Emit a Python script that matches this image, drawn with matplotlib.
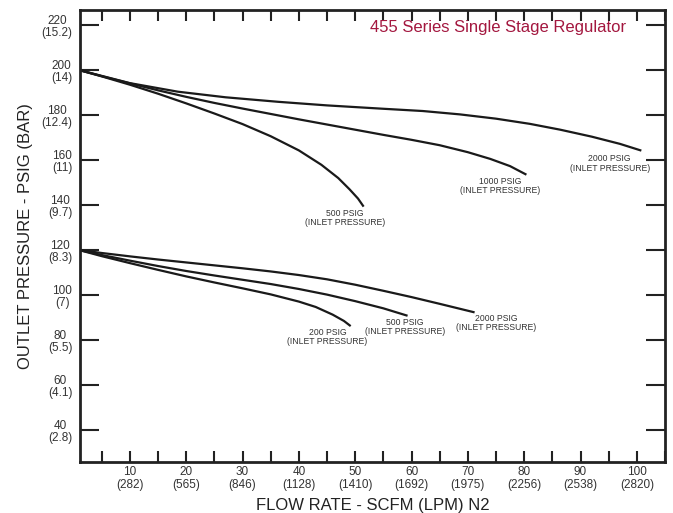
import matplotlib
matplotlib.use("Agg")
import matplotlib.pyplot as plt
from matplotlib.ticker import MultipleLocator

plt.rcParams['font.family'] = ['Liberation Sans', 'DejaVu Sans']

# flow (SCFM) / outlet pressure (PSIG)
up2000_x = [1, 10, 18.5, 27, 36.3, 45, 55, 62, 68.6, 75, 81, 86.4, 92, 97, 100.8]
up2000_y = [200, 194.2, 190.4, 187.9, 185.9, 184.3, 182.8, 181.8, 180.3, 178.4, 176.1, 173.5, 170.4, 167.2, 164.2]
up1000_x = [1, 5, 10, 15, 20, 25, 30, 35, 40, 45, 50, 55, 60, 65, 70, 74, 77.5, 80.4]
up1000_y = [200, 197.3, 194.1, 191, 188.1, 185.4, 182.9, 180.5, 178.1, 175.8, 173.5, 171.2, 169, 166.6, 163.5, 160.5, 157.3, 153.5]
up500_x = [1, 5, 10, 15, 20, 25, 30, 35, 40, 44, 47, 49, 50.5, 51.5]
up500_y = [200, 197.2, 193.5, 189.5, 185.2, 180.7, 176, 170.6, 164.3, 157.9, 152, 147, 142.9, 139.3]

lo2000_x = [1, 5, 10, 15, 20, 25, 30, 35, 40, 45, 50, 55, 60, 65, 71.2]
lo2000_y = [120, 118.7, 117.2, 115.8, 114.5, 113.2, 111.9, 110.5, 108.9, 107, 104.6, 101.9, 99.1, 96.1, 92.3]
lo500_x = [1, 5, 10, 15, 20, 25, 30, 35, 40, 45, 50, 55, 59.3]
lo500_y = [120, 117.8, 115.3, 112.9, 110.7, 108.7, 106.8, 104.9, 102.7, 100.2, 97.3, 94.1, 90.8]
lo200_x = [1, 5, 10, 15, 20, 25, 30, 35, 40, 43, 46, 48, 49.2]
lo200_y = [120, 117.3, 114.2, 111.2, 108.3, 105.6, 103, 100.3, 97.1, 94.7, 91.3, 88.5, 86.2]

curves = [(up2000_x, up2000_y), (up1000_x, up1000_y), (up500_x, up500_y),
          (lo2000_x, lo2000_y), (lo500_x, lo500_y), (lo200_x, lo200_y)]

# curve labels: text, x, y
labels = [("500 PSIG", 48.2, 134.2), ("1000 PSIG", 75.7, 148.4),
          ("2000 PSIG", 95.2, 158.4), ("200 PSIG", 45.1, 81.3),
          ("500 PSIG", 58.8, 85.8), ("2000 PSIG", 75.1, 87.6)]

x_major = [10, 20, 30, 40, 50, 60, 70, 80, 90, 100]
x_lpm = [282, 565, 846, 1128, 1410, 1692, 1975, 2256, 2538, 2820]
y_major = [40, 60, 80, 100, 120, 140, 160, 180, 200, 220]
y_bar = ["2.8", "4.1", "5.5", "7", "8.3", "9.7", "11", "12.4", "14", "15.2"]

fig = plt.figure(figsize=(6.73, 5.13), dpi=100)
ax = fig.add_axes([80 / 673, 1 - 462 / 513, 585 / 673, 452 / 513])

for xs, ys in curves:
    ax.plot(xs, ys, color="#1a1a1a", lw=1.6, solid_capstyle="butt", solid_joinstyle="round")

for txt, x, y in labels:
    ax.text(x, y, f"{txt}\n(INLET PRESSURE)", fontsize=6.2, color="#333333",
            ha="center", va="center", multialignment="center", linespacing=1.05)

ax.text(0.715, 0.962, "455 Series Single Stage Regulator", transform=ax.transAxes,
        fontsize=12, color="#a3173f", ha="center", va="center")

ax.set_xlim(1.15, 105)
ax.set_ylim(25.8, 226.7)

ax.set_xticks(x_major)
ax.set_xticklabels([f"{a}\n({b})" for a, b in zip(x_major, x_lpm)])
ax.xaxis.set_minor_locator(MultipleLocator(5))
ax.set_yticks(y_major)
ax.set_yticklabels([f"{a}\n({b})" for a, b in zip(y_major, y_bar)])

ax.tick_params(axis="x", which="both", direction="in", top=True, length=8,
               width=1.5, color="#222222", labelsize=8.5, labelcolor="#333333", pad=3)
ax.tick_params(axis="y", which="both", direction="in", right=True, length=14,
               width=1.5, color="#222222", labelsize=8.5, labelcolor="#333333", pad=5.5)
for lab in ax.get_xticklabels() + ax.get_yticklabels():
    lab.set_multialignment("center")
    lab.set_linespacing(1.05)

for s in ax.spines.values():
    s.set_linewidth(2)
    s.set_color("#222222")

ax.set_xlabel("FLOW RATE - SCFM (LPM) N2", fontsize=12, color="#222222", labelpad=5)
ax.set_ylabel("OUTLET PRESSURE - PSIG (BAR)", fontsize=12, color="#222222", labelpad=6)

fig.savefig("out.png", dpi=100)
